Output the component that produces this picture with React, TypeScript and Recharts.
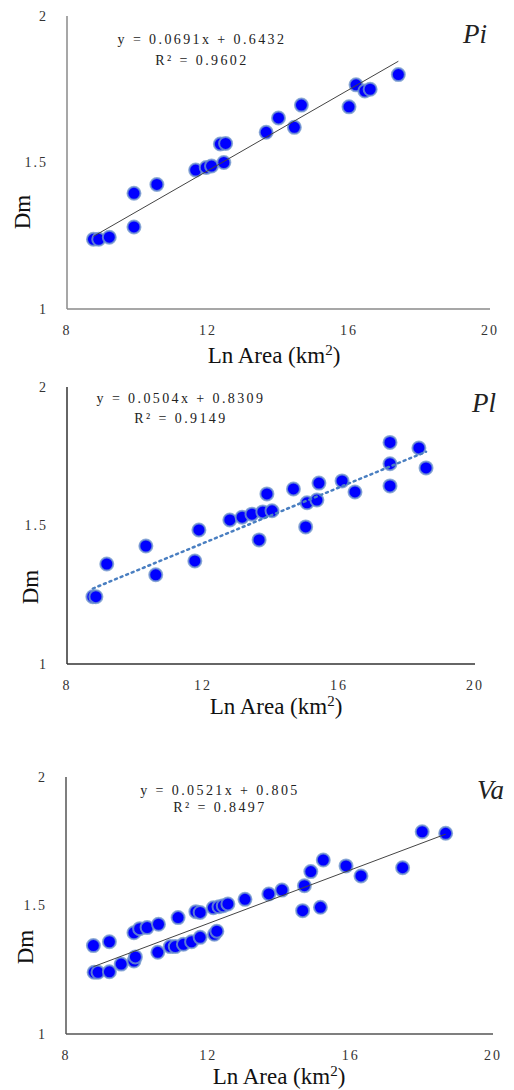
import React from "react";
import { ScatterChart, Scatter, XAxis, YAxis } from "recharts";

// Pi basin
const piX = [8.75, 8.9, 9.2, 9.9, 9.9, 10.55, 11.65, 11.95, 12.1, 12.45, 12.35, 12.5, 13.65, 14.0, 14.45, 14.65, 16.0, 16.2, 16.45, 16.6, 17.4];
const piY = [1.238, 1.238, 1.245, 1.395, 1.28, 1.425, 1.474, 1.483, 1.488, 1.5, 1.563, 1.565, 1.603, 1.652, 1.62, 1.696, 1.69, 1.765, 1.744, 1.75, 1.8];

// Pl basin
const plX = [8.76, 8.85, 9.17, 10.32, 10.61, 11.76, 11.88, 12.79, 13.15, 13.44, 13.65, 13.76, 13.88, 14.03, 14.66, 15.06, 15.02, 15.35, 15.41, 16.09, 16.47, 17.5, 17.5, 17.5, 18.35, 18.56];
const plY = [1.243, 1.243, 1.361, 1.426, 1.322, 1.372, 1.484, 1.52, 1.53, 1.541, 1.448, 1.549, 1.614, 1.553, 1.632, 1.582, 1.495, 1.592, 1.653, 1.661, 1.621, 1.8, 1.723, 1.643, 1.78, 1.708];

// Va basin
const vaX = [8.77, 9.22, 8.79, 8.9, 9.22, 9.55, 9.91, 9.95, 9.91, 10.07, 10.28, 10.6, 11.15, 10.58, 10.93, 11.07, 11.3, 11.53, 11.77, 12.17, 12.24, 11.65, 11.77, 12.14, 12.3, 12.42, 12.55, 13.03, 13.7, 14.07, 14.7, 14.88, 15.23, 15.87, 16.29, 17.46, 14.65, 15.15, 18.01, 18.67];
const vaY = [1.344, 1.359, 1.24, 1.24, 1.242, 1.272, 1.284, 1.3, 1.394, 1.41, 1.414, 1.427, 1.453, 1.318, 1.34, 1.34, 1.349, 1.359, 1.376, 1.388, 1.4, 1.476, 1.473, 1.491, 1.495, 1.499, 1.506, 1.524, 1.545, 1.56, 1.577, 1.632, 1.677, 1.654, 1.615, 1.647, 1.48, 1.493, 1.787, 1.781];

const xTicks = [8, 12, 16, 20];
const yTicks = [1, 1.5, 2];

// regression fits shown on the figure
const fits = [
  { slope: 0.0691, intercept: 0.6432, eq: "y = 0.0691x + 0.6432", r2: "R² = 0.9602", name: "Pi" },
  { slope: 0.0504, intercept: 0.8309, eq: "y = 0.0504x + 0.8309", r2: "R² = 0.9149", name: "Pl" },
  { slope: 0.0521, intercept: 0.805, eq: "y = 0.0521x + 0.805", r2: "R² = 0.8497", name: "Va" },
];

const tickFont = { fontFamily: "Liberation Serif", fontSize: 14, fill: "#333", letterSpacing: 2 };
const titleFont = "Liberation Serif";

const toPoints = (xs: number[], ys: number[]) => xs.map((x, i) => ({ x, y: ys[i] }));

const trendPoints = (xs: number[], slope: number, intercept: number) => {
  const lo = Math.min(...xs);
  const hi = Math.max(...xs);
  return [lo, hi].map((x) => ({ x, y: slope * x + intercept }));
};

const Dot = (props: any) => {
  const { cx, cy } = props;
  return (
    <circle cx={cx} cy={cy} r={6.5} fill="#0000ff" stroke="#7399cc" strokeOpacity={0.8} strokeWidth={2} />
  );
};

const NoDot = () => <g />;

interface PanelProps {
  xs: number[];
  ys: number[];
  fit: (typeof fits)[number];
  top: number;
  height: number;
  margin: { top: number; right: number; left: number; bottom: number };
  yWidth: number;
  xHeight: number;
  axisColor: string;
  trend: { stroke: string; strokeWidth: number; strokeDasharray?: string; strokeLinecap?: string };
}

const Panel = ({ xs, ys, fit, top, height, margin, yWidth, xHeight, axisColor, trend }: PanelProps) => (
  <div style={{ position: "absolute", left: 0, top, width: 514, height }}>
    <ScatterChart width={514} height={height} margin={margin}>
      <XAxis
        type="number"
        dataKey="x"
        domain={[8, 20]}
        ticks={xTicks}
        height={xHeight}
        tickLine={false}
        tickMargin={10}
        tick={tickFont}
        axisLine={{ stroke: axisColor, strokeWidth: 1.5 }}
      />
      <YAxis
        type="number"
        dataKey="y"
        domain={[1, 2]}
        ticks={yTicks}
        width={yWidth}
        tickLine={false}
        tickMargin={13}
        tick={tickFont}
        axisLine={{ stroke: axisColor, strokeWidth: 1.5 }}
      />
      <Scatter data={toPoints(xs, ys)} shape={Dot} isAnimationActive={false} />
      <Scatter
        data={trendPoints(xs, fit.slope, fit.intercept)}
        shape={NoDot}
        line={trend}
        isAnimationActive={false}
      />
    </ScatterChart>
  </div>
);

const Texts = () => {
  const eqStyle = { fontFamily: "Liberation Serif", fontSize: 14, fill: "#222", letterSpacing: 2.4 };
  const nameStyle = { fontFamily: titleFont, fontSize: 27, fontStyle: "italic" as const, fill: "#222" };
  const axisTitle = { fontFamily: titleFont, fontSize: 23, fill: "#111" };
  const eqPos = [
    { x: 202, y1: 44, y2: 65, nx: 463, ny: 43, tx: 274, ty: 363, dx: 22, dy: 212 },
    { x: 181, y1: 403, y2: 423, nx: 472, ny: 412, tx: 276, ty: 714, dx: 30, dy: 587 },
    { x: 220, y1: 795, y2: 812, nx: 477, ny: 799, tx: 279, ty: 1084, dx: 25, dy: 947 },
  ];
  return (
    <svg width={514} height={1090} style={{ position: "absolute", left: 0, top: 0, pointerEvents: "none" }}>
      {fits.map((f, i) => {
        const p = eqPos[i];
        return (
          <g key={f.name}>
            <text x={p.x} y={p.y1} textAnchor="middle" {...eqStyle}>{f.eq}</text>
            <text x={p.x} y={p.y2} textAnchor="middle" {...eqStyle}>{f.r2}</text>
            <text x={p.nx} y={p.ny} {...nameStyle}>{f.name}</text>
            <text x={p.tx} y={p.ty} textAnchor="middle" {...axisTitle}>
              Ln Area (km<tspan baselineShift="super" fontSize={15}>2</tspan>)
            </text>
            <text
              x={p.dx}
              y={p.dy}
              textAnchor="middle"
              dominantBaseline="central"
              transform={`rotate(-90 ${p.dx} ${p.dy})`}
              {...axisTitle}
            >
              Dm
            </text>
          </g>
        );
      })}
    </svg>
  );
};

export default function App() {
  return (
    <div style={{ position: "absolute", left: 0, top: 0, width: 514, height: 1090, background: "#fff" }}>
      <Panel
        xs={piX}
        ys={piY}
        fit={fits[0]}
        top={0}
        height={370}
        margin={{ top: 16, right: 24, left: 0, bottom: 0 }}
        yWidth={67}
        xHeight={61}
        axisColor="#8a8a8a"
        trend={{ stroke: "#444", strokeWidth: 1 }}
      />
      <Panel
        xs={plX}
        ys={plY}
        fit={fits[1]}
        top={360}
        height={340}
        margin={{ top: 27, right: 39, left: 0, bottom: 0 }}
        yWidth={67}
        xHeight={36}
        axisColor="#333"
        trend={{ stroke: "#4a7fc1", strokeWidth: 2.5, strokeDasharray: "2 4", strokeLinecap: "round" }}
      />
      <Panel
        xs={vaX}
        ys={vaY}
        fit={fits[2]}
        top={740}
        height={350}
        margin={{ top: 37, right: 21, left: 0, bottom: 0 }}
        yWidth={66}
        xHeight={56}
        axisColor="#555"
        trend={{ stroke: "#444", strokeWidth: 1 }}
      />
      <Texts />
    </div>
  );
}
